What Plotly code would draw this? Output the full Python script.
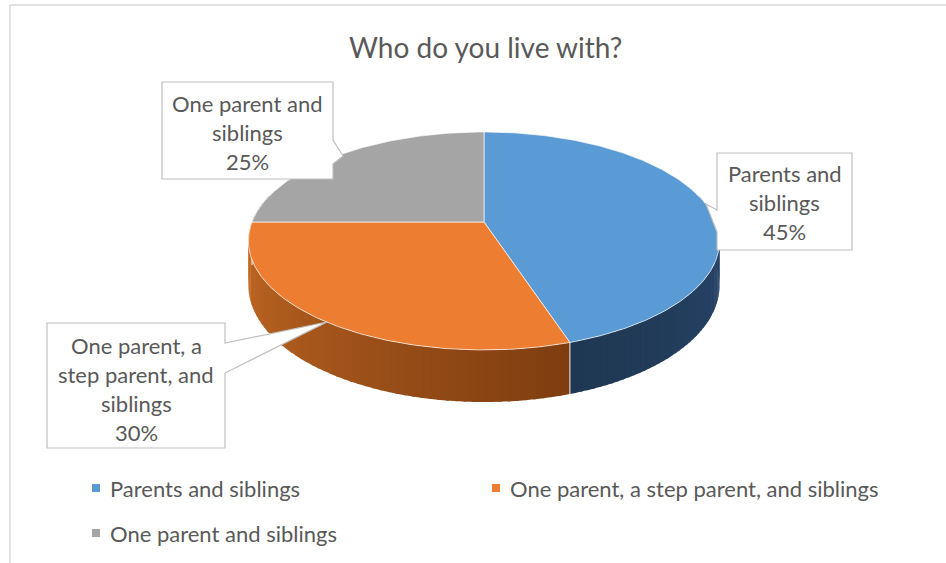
import numpy as np
import plotly.graph_objects as go

# ---- data ----
categories = ["Parents and siblings",
              "One parent, a step parent, and siblings",
              "One parent and siblings"]
values = [45, 30, 25]
label_lines = [["Parents and", "siblings"],
               ["One parent, a", "step parent, and", "siblings"],
               ["One parent and", "siblings"]]
title_text = "Who do you live with?"

# ---- style ----
top_colors = ["#5B9BD5", "#ED7D31", "#A5A5A5"]
TXT = "#595959"
FONT = "Lato"
W, H = 946, 563

# pie geometry (pixel space)
CX, CY = 484, 222
RX, RY = 232, 105.7
K = 0.174
DEPTH = 43


def proj(theta_deg, drop=0.0):
    t = np.radians(theta_deg)
    u = np.sin(t)
    v = -np.cos(t)
    s = 1.0 / (1.0 - K * v)
    return CX + RX * u * s, CY + RY * v * s + drop * s


def arc(a0, a1, drop=0.0, n=None):
    if n is None:
        n = max(4, int(abs(a1 - a0) * 1.5))
    th = np.linspace(a0, a1, n)
    return proj(th, drop)


total = float(sum(values))
bounds = [0.0]
for v in values:
    bounds.append(bounds[-1] + 360.0 * v / total)

fig = go.Figure()

# ---- side walls (front half only) ----
VIS0, VIS1 = 75.0, 285.0


def hex2rgb(h):
    h = h.lstrip("#")
    return np.array([int(h[i:i + 2], 16) for i in (0, 2, 4)], dtype=float)


def rgb2hex(c):
    return "#%02x%02x%02x" % tuple(int(round(x)) for x in c)


side_grad = [("#2A4870", "#1F3752"),   # blue side: start->end angle
             ("#7E3D10", "#C86C25"),   # orange side
             ("#8A8A8A", "#8A8A8A")]

for i in range(len(values)):
    a0 = max(bounds[i], VIS0)
    a1 = min(bounds[i + 1], VIS1)
    if a1 <= a0:
        continue
    nstrip = 60
    edges = np.linspace(a0, a1, nstrip + 1)
    c0, c1 = hex2rgb(side_grad[i][0]), hex2rgb(side_grad[i][1])
    for j in range(nstrip):
        e0 = edges[j]
        e1 = min(edges[j + 1] + 0.6, a1)
        f = (j + 0.5) / nstrip
        col = rgb2hex(c0 + (c1 - c0) * f)
        xt, yt = arc(e0, e1, n=6)
        xb, yb = arc(e0, e1, DEPTH, n=6)
        xs = np.concatenate([xt, xb[::-1], xt[:1]])
        ys = np.concatenate([yt, yb[::-1], yt[:1]])
        fig.add_trace(go.Scatter(x=xs, y=ys, mode="lines", fill="toself",
                                 fillcolor=col, line=dict(width=0, color=col),
                                 hoverinfo="skip", showlegend=False))

# light edge line on side at slice boundary (front)
for b in bounds[1:-1]:
    if VIS0 < b < VIS1:
        x0, y0 = proj(b)
        x1, y1 = proj(b, DEPTH)
        fig.add_trace(go.Scatter(x=[x0, x1], y=[y0, y1], mode="lines",
                                 line=dict(color="rgba(255,255,255,0.75)", width=1.2),
                                 hoverinfo="skip", showlegend=False))

# ---- top faces ----
for i in range(len(values)):
    xa, ya = arc(bounds[i], bounds[i + 1])
    xs = np.concatenate([[CX], xa, [CX]])
    ys = np.concatenate([[CY], ya, [CY]])
    fig.add_trace(go.Scatter(x=xs, y=ys, mode="lines", fill="toself",
                             fillcolor=top_colors[i],
                             line=dict(color="rgba(255,255,255,0.65)", width=1),
                             hoverinfo="skip", showlegend=False))

# ---- data labels (callout boxes) ----
boxes = [
    dict(x0=717, y0=153, x1=852, y1=250, side="L", b0=210, b1=232, tx=706, ty=204, ly=173),
    dict(x0=47, y0=323, x1=225, y1=448, side="R", b0=343, b1=373, tx=327, ty=322, ly=345),
    dict(x0=162, y0=82, x1=333, y1=179, side="R", b0=140, b1=164, tx=343, ty=156, ly=103),
]
LINE_H = 29
shapes = []
annotations = []
for i, bx in enumerate(boxes):
    x0, y0, x1, y1 = bx["x0"], bx["y0"], bx["x1"], bx["y1"]
    if bx["side"] == "R":
        path = (f"M{x0},{y0} L{x1},{y0} L{x1},{bx['b0']} L{bx['tx']},{bx['ty']} "
                f"L{x1},{bx['b1']} L{x1},{y1} L{x0},{y1} Z")
    else:
        path = (f"M{x0},{y0} L{x1},{y0} L{x1},{y1} L{x0},{y1} L{x0},{bx['b1']} "
                f"L{bx['tx']},{bx['ty']} L{x0},{bx['b0']} Z")
    shapes.append(dict(type="path", path=path, xref="x", yref="y",
                       fillcolor="white", line=dict(color="#BFBFBF", width=1.2),
                       layer="above"))
    lines = label_lines[i] + [f"{values[i] / total * 100:.0f}%"]
    cxm = (x0 + x1) / 2
    for j, t in enumerate(lines):
        annotations.append(dict(x=cxm, y=bx["ly"] + j * LINE_H, xref="x", yref="y",
                                text=t, showarrow=False, xanchor="center",
                                yanchor="middle",
                                font=dict(family=FONT, size=22, color=TXT)))

# ---- title ----
annotations.append(dict(x=485, y=47, xref="x", yref="y", text=title_text,
                        showarrow=False, xanchor="center", yanchor="middle",
                        font=dict(family=FONT, size=28, color=TXT)))

# ---- legend ----
leg_pos = [(96, 488), (496, 488), (96, 533)]
for i, (lx, ly) in enumerate(leg_pos):
    shapes.append(dict(type="rect", xref="x", yref="y", x0=lx - 4, x1=lx + 4,
                       y0=ly - 4, y1=ly + 4, fillcolor=top_colors[i],
                       line=dict(width=0)))
    annotations.append(dict(x=lx + 12, y=ly, xref="x", yref="y",
                            text=categories[i], showarrow=False, xanchor="left",
                            yanchor="middle",
                            font=dict(family=FONT, size=22, color=TXT)))

# ---- chart border ----
shapes.append(dict(type="line", xref="x", yref="y", x0=10, x1=10, y0=5, y1=H,
                   line=dict(color="#D9D9D9", width=1.5)))
shapes.append(dict(type="line", xref="x", yref="y", x0=10, x1=W, y0=5, y1=5,
                   line=dict(color="#D9D9D9", width=1.5)))

fig.update_layout(
    width=W, height=H, autosize=False,
    margin=dict(l=0, r=0, t=0, b=0, pad=0),
    paper_bgcolor="white", plot_bgcolor="white",
    xaxis=dict(range=[0, W], visible=False, fixedrange=True),
    yaxis=dict(range=[H, 0], visible=False, fixedrange=True),
    shapes=shapes, annotations=annotations,
    showlegend=False, hovermode=False,
)

fig.write_html("out.html")
